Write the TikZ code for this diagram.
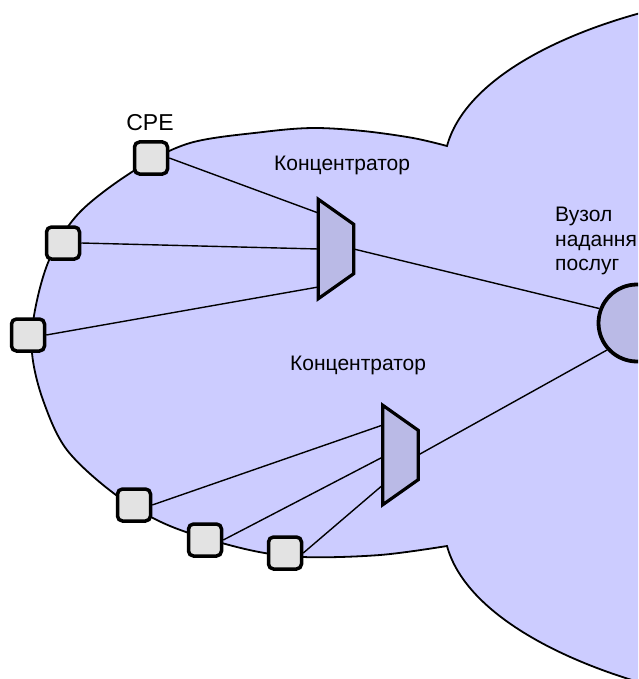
\documentclass[tikz,border=0pt]{standalone}
\usepackage{fontspec}
\setmainfont{Liberation Sans}
\definecolor{cloudfill}{RGB}{204,204,255}
\definecolor{devfill}{RGB}{186,186,230}
\definecolor{cpefill}{RGB}{227,227,227}
\tikzset{
 cloudarea/.style={fill=cloudfill, draw=black, line width=1.8pt, line join=miter},
 cpe/.style={draw=black, fill=cpefill, line width=3.5pt, rounded corners=5pt, minimum width=33pt, minimum height=32pt, inner sep=0pt},
 concbox/.style={rectangle, minimum width=35pt, minimum height=99pt, inner sep=0pt},
 concshape/.style={draw=black, fill=devfill, line width=3.2pt, line join=miter},
 svcnode/.style={circle, draw=black, fill=devfill, line width=3.8pt, minimum size=77pt, inner sep=0pt},
 link/.style={draw=black, line width=1.4pt},
 lbl/.style={font=\fontsize{21}{24.5}\selectfont, inner sep=0pt},
}
\begin{document}
\begin{tikzpicture}[x=1pt, y=-1pt]
\useasboundingbox (0,0) rectangle (638,679);
\clip (0,0) rectangle (638,679);
% network area outline
\path[cloudarea] (447,146) .. controls (465,80) and (560,32) .. (660,8) -- (720,8) -- (720,688) -- (660,688)
  .. controls (560,662) and (465,612) .. (447,546)
  -- plot[smooth, tension=0.55] coordinates {(447,546) (380,555) (303,557) (245,549) (170,526) (116,495) (67,450) (43,400) (32,353) (35,310) (50,258) (80,212) (135,170) (190,143) (263,132) (313,128) (363,131) (413,138) (447,146)} -- cycle;
% devices
\node[cpe] (cpe1) at (151,158) {};
\node[cpe] (cpe2) at (63,243) {};
\node[cpe] (cpe3) at (28,335) {};
\node[cpe] (cpe4) at (134,505) {};
\node[cpe] (cpe5) at (205,540) {};
\node[cpe] (cpe6) at (285,553) {};
\node[concbox] (conc1) at (336,249) {};
\node[concbox] (conc2) at (400.5,455) {};
\foreach \c in {conc1,conc2}
  \draw[concshape] (\c.north west) -- ([yshift=-25pt]\c.north east) -- ([yshift=25pt]\c.south east) -- (\c.south west) -- cycle;
\node[svcnode] (svc) at (637,323) {};
% links
\draw[link] (cpe1.east) -- ([yshift=36pt]conc1.west);
\draw[link] (cpe2.east) -- (conc1.west);
\draw[link] (cpe3.east) -- ([yshift=-38pt]conc1.west);
\draw[link] (cpe4.east) -- ([yshift=30pt]conc2.west);
\draw[link] (cpe5.east) -- ([yshift=-2pt]conc2.west);
\draw[link] (cpe6.east) -- ([yshift=-30pt]conc2.west);
\draw[link] (conc1.east) -- (svc.159);
\draw[link] (conc2.east) -- (svc.222);
% labels
\node[lbl, font=\fontsize{23}{26}\selectfont, anchor=base] (lcpe) at (150,131) {CPE};
\node[lbl, anchor=base west] (lconc1) at (274,171) {Концентратор};
\node[lbl, anchor=base west] (lconc2) at (290,370) {Концентратор};
\node[lbl, anchor=north west, align=left] (lsvc) at (555,207) {Вузол\\надання\\послуг};
\end{tikzpicture}
\end{document}
